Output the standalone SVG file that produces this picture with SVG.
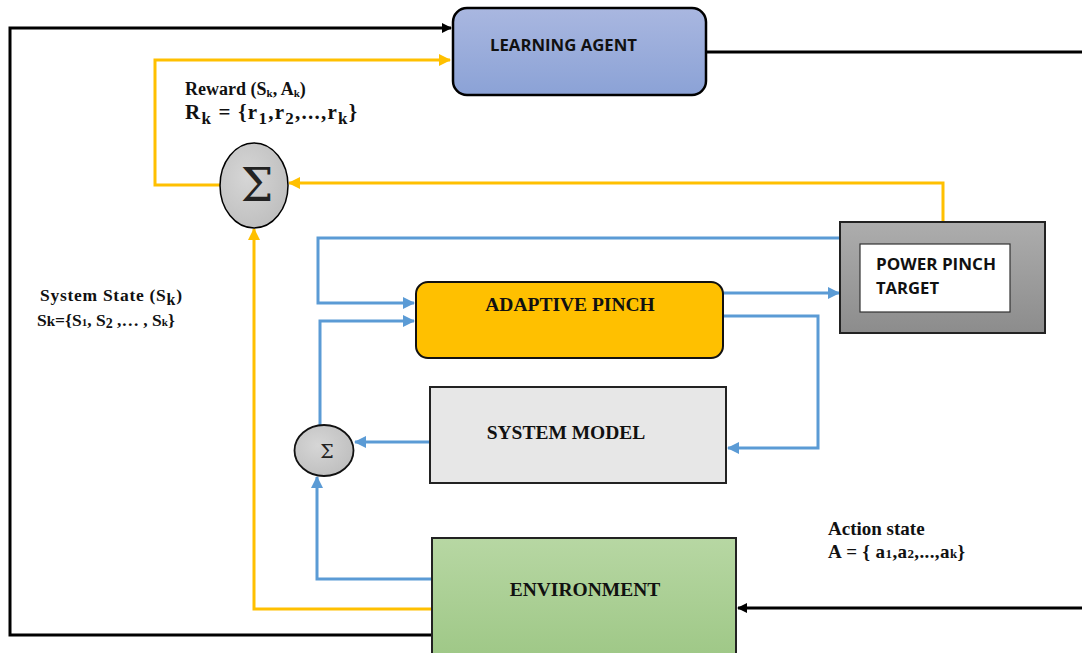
<svg xmlns="http://www.w3.org/2000/svg" width="1082" height="653" viewBox="0 0 1082 653">
<defs>
<linearGradient id="gAgent" x1="0" y1="0" x2="0" y2="1"><stop offset="0" stop-color="#a9b7e0"/><stop offset="1" stop-color="#8ba2d6"/></linearGradient>
<linearGradient id="gEnv" x1="0" y1="0" x2="0" y2="1"><stop offset="0" stop-color="#b7d7a3"/><stop offset="1" stop-color="#9fc887"/></linearGradient>
<linearGradient id="gPow" x1="0" y1="0" x2="0" y2="1"><stop offset="0" stop-color="#adadad"/><stop offset="1" stop-color="#8c8c8c"/></linearGradient>
<radialGradient id="gSig" cx="0.4" cy="0.4" r="0.7"><stop offset="0" stop-color="#d6d6d6"/><stop offset="1" stop-color="#bdbdbd"/></radialGradient>
<marker id="aBlk" markerWidth="10" markerHeight="10" refX="9" refY="5" orient="auto" markerUnits="userSpaceOnUse"><path d="M0,0 L10,5 L0,10 z" fill="#000"/></marker>
<marker id="aYel" markerWidth="12" markerHeight="12" refX="11" refY="6" orient="auto" markerUnits="userSpaceOnUse"><path d="M0,0 L12,6 L0,12 z" fill="#ffc000"/></marker>
<marker id="aBlu" markerWidth="12" markerHeight="12" refX="11" refY="6" orient="auto" markerUnits="userSpaceOnUse"><path d="M0,0 L12,6 L0,12 z" fill="#5b9bd5"/></marker>
</defs>
<style>
.blk{fill:none;stroke:#000;stroke-width:3}
.yel{fill:none;stroke:#ffc000;stroke-width:3}
.blu{fill:none;stroke:#5b9bd5;stroke-width:3}
.serif{font-family:"Liberation Serif","Times New Roman",serif;font-weight:bold;fill:#111}
.sans{font-family:"Open Sans","Liberation Sans",Arial,sans-serif;font-weight:bold;fill:#111}
</style>
<rect width="1082" height="653" fill="#fff"/>
<g id="connectors">
<polyline class="blk" points="432,635 10,635 10,28 451,28" marker-end="url(#aBlk)"/>
<polyline class="blk" points="706,52 1082,52"/>
<polyline class="blk" points="1082,608 738,608" marker-end="url(#aBlk)"/>
<polyline class="yel" points="220,185 155,185 155,60 450,60" marker-end="url(#aYel)"/>
<polyline class="yel" points="943,222 943,183 289,183" marker-end="url(#aYel)"/>
<polyline class="yel" points="433,609 254,609 254,229" marker-end="url(#aYel)"/>
<polyline class="blu" points="840,238 318,238 318,303 414,303" marker-end="url(#aBlu)"/>
<polyline class="blu" points="320,425 320,321 414,321" marker-end="url(#aBlu)"/>
<polyline class="blu" points="723,293 839,293" marker-end="url(#aBlu)"/>
<polyline class="blu" points="723,316 818,316 818,448 728,448" marker-end="url(#aBlu)"/>
<polyline class="blu" points="430,442 355,442" marker-end="url(#aBlu)"/>
<polyline class="blu" points="433,579 317,579 317,477" marker-end="url(#aBlu)"/>
</g>
<g id="learning-agent">
<rect x="453" y="8" width="253" height="87" rx="14" fill="url(#gAgent)" stroke="#000" stroke-width="2.5"/>
<text x="490" y="51" class="sans" font-size="16.5" textLength="147" lengthAdjust="spacingAndGlyphs">LEARNING AGENT</text>
</g>
<g id="sum-reward">
<ellipse cx="254" cy="185.5" rx="34" ry="42.5" fill="url(#gSig)" stroke="#000" stroke-width="1.5"/>
<text x="257" y="201" text-anchor="middle" font-family="'DejaVu Serif','Liberation Serif',serif" font-size="46" fill="#222">Σ</text>
</g>
<g id="reward-label">
<text x="185" y="95" class="serif" font-size="18">Reward (S<tspan font-size="11" dy="2">k</tspan><tspan dy="-2">, A</tspan><tspan font-size="11" dy="2">k</tspan><tspan dy="-2">)</tspan></text>
<text x="185" y="119" class="serif" font-size="21" textLength="172" lengthAdjust="spacing">R<tspan font-size="17" dy="5">k</tspan><tspan dy="-5"> = {r</tspan><tspan font-size="17" dy="5">1</tspan><tspan dy="-5">,r</tspan><tspan font-size="17" dy="5">2</tspan><tspan dy="-5">,...,r</tspan><tspan font-size="17" dy="5">k</tspan><tspan dy="-5">}</tspan></text>
</g>
<g id="system-state-label">
<text x="40" y="301" class="serif" font-size="17.5" textLength="142" lengthAdjust="spacing">System State (S<tspan font-size="16" dy="4">k</tspan><tspan dy="-4">)</tspan></text>
<text x="37" y="326" class="serif" font-size="17.5">S<tspan font-size="15">k</tspan>={S<tspan font-size="11">1</tspan>, S<tspan font-size="14" dy="2">2</tspan><tspan dy="-2"> ,… , S</tspan><tspan font-size="11">k</tspan>}</text>
</g>
<g id="power-pinch-target">
<rect x="840" y="222" width="205" height="111" fill="url(#gPow)" stroke="#222" stroke-width="2"/>
<rect x="860" y="244" width="150" height="68" fill="#fff" stroke="#333" stroke-width="1.2"/>
<text x="876" y="270" class="sans" font-size="16.5" textLength="120" lengthAdjust="spacingAndGlyphs">POWER PINCH</text>
<text x="876" y="294" class="sans" font-size="16.5" textLength="63" lengthAdjust="spacingAndGlyphs">TARGET</text>
</g>
<g id="adaptive-pinch">
<rect x="416" y="282" width="307" height="76" rx="12" fill="#ffc000" stroke="#111" stroke-width="2"/>
<text x="570" y="311" text-anchor="middle" class="serif" font-size="19.5">ADAPTIVE PINCH</text>
</g>
<g id="system-model">
<rect x="430" y="387" width="296" height="96" fill="#e7e7e7" stroke="#222" stroke-width="2"/>
<text x="566" y="439" text-anchor="middle" class="serif" font-size="19.5">SYSTEM MODEL</text>
</g>
<g id="sum-state">
<ellipse cx="324" cy="450.5" rx="29.5" ry="25.5" fill="url(#gSig)" stroke="#111" stroke-width="1.8"/>
<text x="327" y="458" text-anchor="middle" font-family="'DejaVu Serif','Liberation Serif',serif" font-size="19" fill="#222">Σ</text>
</g>
<g id="environment">
<rect x="432" y="538" width="304" height="118" fill="url(#gEnv)" stroke="#222" stroke-width="2"/>
<text x="585" y="596" text-anchor="middle" class="serif" font-size="19.5">ENVIRONMENT</text>
</g>
<g id="action-state-label">
<text x="828" y="535" class="serif" font-size="19">Action state</text>
<text x="828" y="558" class="serif" font-size="19" textLength="137" lengthAdjust="spacing">A = { a<tspan font-size="13">1</tspan>,a<tspan font-size="13">2</tspan>,...,a<tspan font-size="13">k</tspan>}</text>
</g>
</svg>
